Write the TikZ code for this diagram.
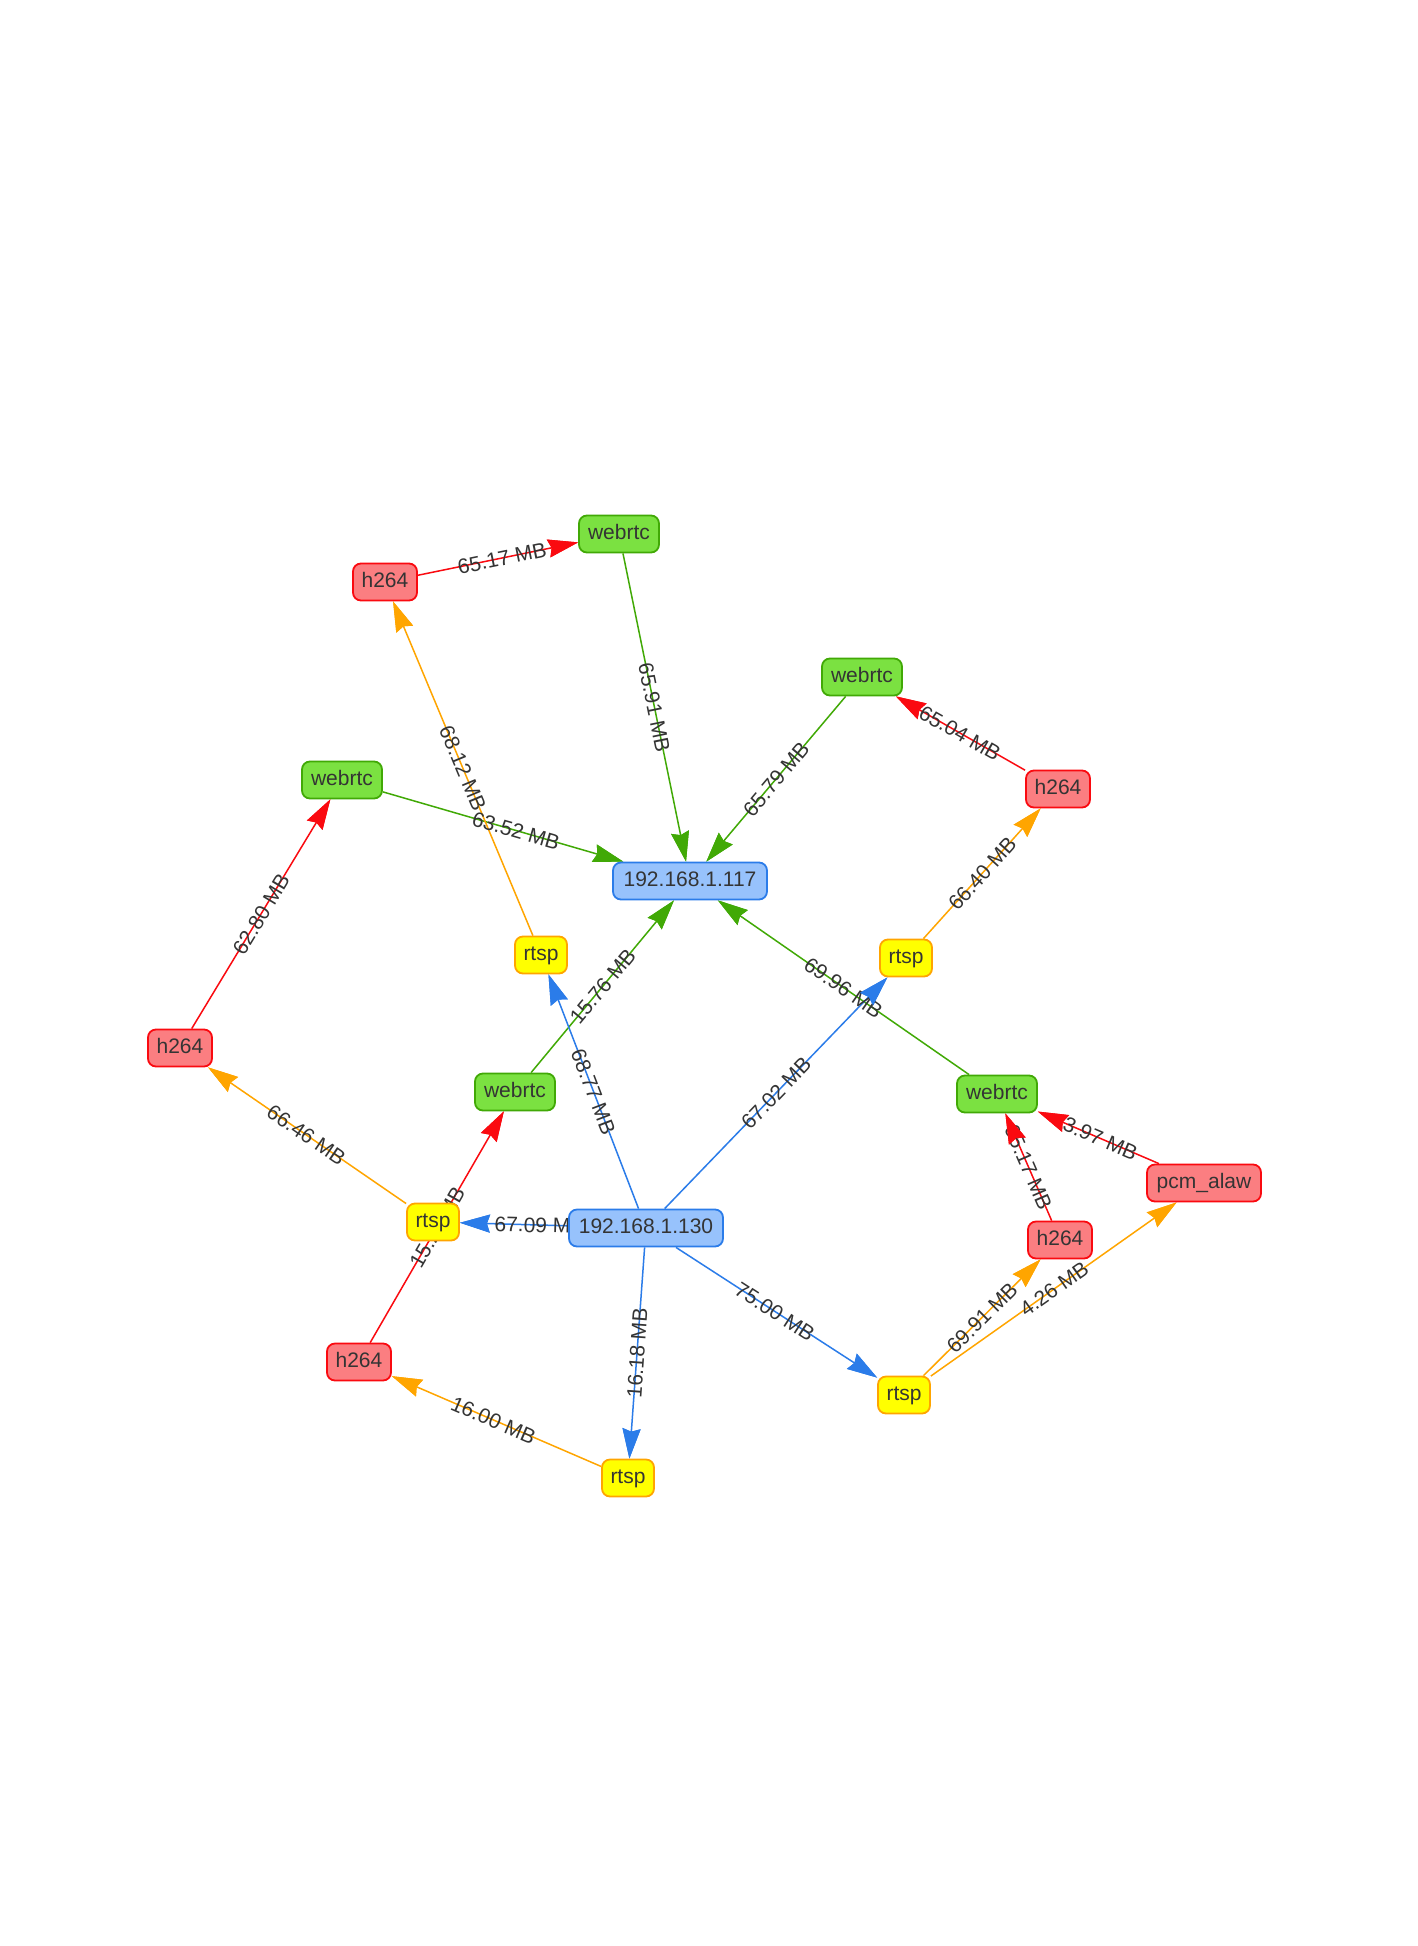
\documentclass[tikz,border=0pt]{standalone}
\usepackage{fontspec}
\setmainfont{Liberation Sans}
\usetikzlibrary{arrows.meta}
\definecolor{ipfill}{HTML}{97C2FC}\definecolor{ipline}{HTML}{2B7CE9}
\definecolor{wfill}{HTML}{7BE141}\definecolor{wline}{HTML}{41A906}
\definecolor{hfill}{HTML}{FB7E81}\definecolor{hline}{HTML}{FA0A10}
\definecolor{rfill}{HTML}{FFFF00}\definecolor{rline}{HTML}{FFA500}
\definecolor{txt}{HTML}{343434}
\pgfdeclarelayer{bglayer}\pgfdeclarelayer{edgelayer}\pgfdeclarelayer{labellayer}\pgfdeclarelayer{arrowlayer}
\pgfsetlayers{bglayer,edgelayer,labellayer,arrowlayer,main}
\tikzset{
 nd/.style={rounded corners=8pt, line width=1.8pt, minimum height=37pt, inner sep=0pt,
   text=txt, font=\fontsize{21}{25}\selectfont, text height=15pt, text depth=4pt},
 ipn/.style={nd, fill=ipfill, draw=ipline, minimum width=154pt},
 wn/.style={nd, fill=wfill, draw=wline, minimum width=80pt},
 hn/.style={nd, fill=hfill, draw=hline, minimum width=64pt},
 rn/.style={nd, fill=rfill, draw=rline, minimum width=52pt},
 pn/.style={nd, fill=hfill, draw=hline, minimum width=114pt},
 ed/.style={line width=1.5pt, -{Stealth[length=30pt,width=18pt,inset=3pt]}},
 lbl/.style={sloped, midway, text=txt, font=\fontsize{21}{25}\selectfont, inner sep=0pt,
   text height=15pt, text depth=0pt},
}
\newcommand{\myedge}[4]{%
 \begin{pgfonlayer}{edgelayer}\draw[ed,#1] (#2) -- (#3);\end{pgfonlayer}%
 \begin{pgfonlayer}{labellayer}\path (#2.center) -- node[lbl]{#4} (#3.center);\end{pgfonlayer}%
 \begin{pgfonlayer}{arrowlayer}\draw[ed,#1,dash pattern=on 0pt off 5000pt] (#2) -- (#3);\end{pgfonlayer}%
}
\begin{document}
\begin{tikzpicture}[x=1pt,y=-1pt]
\begin{pgfonlayer}{bglayer}
\fill[white] (0,0) rectangle (1418,1946);
\end{pgfonlayer}
\useasboundingbox (0,0) rectangle (1418,1946);
% nodes
\node[ipn] (ipA) at (690,881) {192.168.1.117};
\node[ipn] (ipB) at (646,1228) {192.168.1.130};
\node[wn] (wT) at (619,534) {webrtc};
\node[hn] (hTL) at (385,582) {h264};
\node[wn] (wRT) at (862,677) {webrtc};
\node[hn] (hR) at (1058,789) {h264};
\node[wn] (wL) at (342,780) {webrtc};
\node[rn] (rR) at (906,958) {rtsp};
\node[rn] (rM) at (541,955) {rtsp};
\node[hn] (hL) at (180,1048) {h264};
\node[wn] (wM) at (515,1092) {webrtc};
\node[wn] (wRB) at (997,1094) {webrtc};
\node[pn] (pcm) at (1204,1183) {pcm\_alaw};
\node[hn] (hRB) at (1060,1240) {h264};
\node[rn] (rL) at (433,1222) {rtsp};
\node[hn] (hBL) at (359,1362) {h264};
\node[rn] (rB) at (628,1478) {rtsp};
\node[rn] (rBR) at (904,1395) {rtsp};
% edges
\myedge{hline}{hTL}{wT}{65.17 MB}
\myedge{wline}{wT}{ipA}{65.91 MB}
\myedge{wline}{wRT}{ipA}{65.79 MB}
\myedge{hline}{hR}{wRT}{65.04 MB}
\myedge{rline}{rR}{hR}{66.40 MB}
\myedge{wline}{wL}{ipA}{63.52 MB}
\myedge{rline}{rM}{hTL}{68.12 MB}
\myedge{hline}{hL}{wL}{62.80 MB}
\myedge{wline}{wM}{ipA}{15.76 MB}
\myedge{wline}{wRB}{ipA}{69.96 MB}
\myedge{ipline}{ipB}{rM}{68.77 MB}
\myedge{ipline}{ipB}{rR}{67.02 MB}
\myedge{rline}{rL}{hL}{66.46 MB}
\myedge{hline}{hBL}{wM}{15.23 MB}
\myedge{ipline}{ipB}{rL}{67.09 MB}
\myedge{ipline}{ipB}{rB}{16.18 MB}
\myedge{ipline}{ipB}{rBR}{75.00 MB}
\myedge{rline}{rB}{hBL}{16.00 MB}
\myedge{rline}{rBR}{hRB}{69.91 MB}
\myedge{rline}{rBR}{pcm}{4.26 MB}
\myedge{hline}{hRB}{wRB}{65.17 MB}
\myedge{hline}{pcm}{wRB}{3.97 MB}
\end{tikzpicture}
\end{document}
